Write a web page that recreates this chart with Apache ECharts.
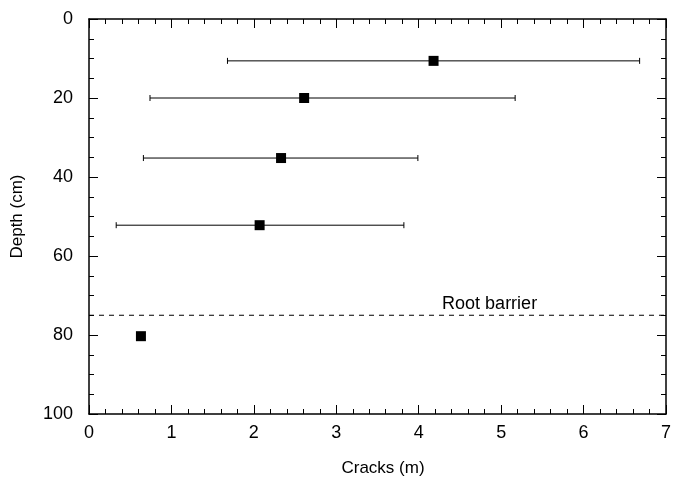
<!DOCTYPE html>
<html>
<head>
<meta charset="utf-8">
<script src="https://cdn.jsdelivr.net/npm/echarts@6/dist/echarts.min.js"></script>
<style>
  html, body { margin: 0; padding: 0; background: #fff; }
  #chart { width: 683px; height: 482px; }
</style>
</head>
<body>
<div id="chart"></div>
<script>
// depth (cm) of each measurement and the crack values (m)
const depths = [10.6, 20.0, 35.2, 52.2, 80.3];
const crackMean = [4.18, 2.61, 2.33, 2.07, 0.63];
const crackLow = [1.68, 0.74, 0.66, 0.33, null];
const crackHigh = [6.68, 5.17, 3.99, 3.82, null];
const barrierDepth = 75;
const barrierX = [0, 7];
const xTicks = [0, 1, 2, 3, 4, 5, 6, 7];
const yTicks = [0, 20, 40, 60, 80, 100];

const font = 'Liberation Sans, Arial, sans-serif';

const points = depths.map((d, i) => [crackMean[i], d]);
const bars = depths
  .map((d, i) => [d, crackLow[i], crackHigh[i]])
  .filter(r => r[1] != null);

const chart = echarts.init(document.getElementById('chart'), null, { renderer: 'canvas' });

const axisLine = { show: true, onZero: false, lineStyle: { color: '#000', width: 1.5 } };

function xAxis(pos, labels) {
  return {
    type: 'value',
    position: pos,
    min: xTicks[0],
    max: xTicks[xTicks.length - 1],
    interval: 1,
    axisLine: axisLine,
    axisTick: { show: true, inside: true, length: 9, lineStyle: { color: '#000', width: 1 } },
    minorTick: { show: true, splitNumber: 5, length: 5, lineStyle: { color: '#000', width: 1 } },
    splitLine: { show: false },
    axisLabel: { show: labels, color: '#000', fontSize: 18, fontFamily: font, margin: 10 },
    name: labels ? 'Cracks (m)' : '',
    nameLocation: 'middle',
    nameGap: 46,
    nameTextStyle: { color: '#000', fontSize: 17, fontFamily: font, padding: [0, 0, 0, 11] }
  };
}

function yAxis(pos, labels) {
  return {
    type: 'value',
    position: pos,
    inverse: true,
    min: yTicks[0],
    max: yTicks[yTicks.length - 1],
    interval: 20,
    axisLine: axisLine,
    axisTick: { show: true, inside: true, length: 9, lineStyle: { color: '#000', width: 1 } },
    minorTick: { show: true, splitNumber: 4, length: 5, lineStyle: { color: '#000', width: 1 } },
    splitLine: { show: false },
    axisLabel: { show: labels, color: '#000', fontSize: 18, fontFamily: font, margin: 16 },
    name: labels ? 'Depth (cm)' : '',
    nameLocation: 'middle',
    nameGap: 63,
    nameTextStyle: { color: '#000', fontSize: 17, fontFamily: font }
  };
}

chart.setOption({
  backgroundColor: '#fff',
  animation: false,
  grid: { left: 89, top: 19, right: 17, bottom: 61 },
  xAxis: [xAxis('bottom', true), xAxis('top', false)],
  yAxis: [yAxis('left', true), yAxis('right', false)],
  series: [
    {
      type: 'custom',
      data: bars,
      encode: { x: [1, 2], y: 0 },
      renderItem(params, api) {
        const d = api.value(0);
        const a = api.coord([api.value(1), d]);
        const b = api.coord([api.value(2), d]);
        const cap = 3;
        const style = { stroke: '#000', lineWidth: 1 };
        return {
          type: 'group',
          children: [
            { type: 'line', shape: { x1: a[0], y1: a[1], x2: b[0], y2: b[1] }, style: style },
            { type: 'line', shape: { x1: a[0], y1: a[1] - cap, x2: a[0], y2: a[1] + cap }, style: style },
            { type: 'line', shape: { x1: b[0], y1: b[1] - cap, x2: b[0], y2: b[1] + cap }, style: style }
          ]
        };
      },
      z: 2
    },
    {
      type: 'line',
      data: barrierX.map(x => [x, barrierDepth]),
      symbol: 'none',
      lineStyle: { color: '#000', width: 1, type: [5, 5] },
      z: 1
    },
    {
      type: 'scatter',
      data: points,
      symbol: 'rect',
      symbolSize: 10,
      itemStyle: { color: '#000', opacity: 1 },
      z: 3
    },
    {
      type: 'scatter',
      data: [[4.86, barrierDepth]],
      symbolSize: 0,
      itemStyle: { color: '#000', opacity: 1 },
      label: {
        show: true,
        position: 'top',
        distance: 3,
        offset: [0, 1],
        formatter: 'Root barrier',
        color: '#000',
        fontSize: 18,
        fontFamily: font
      }
    }
  ]
});
</script>
</body>
</html>
